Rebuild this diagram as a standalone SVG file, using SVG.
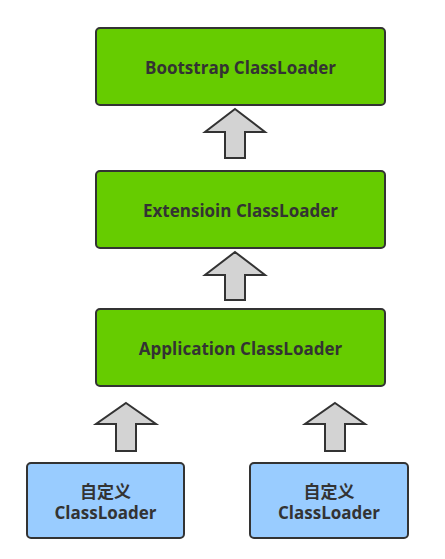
<svg xmlns="http://www.w3.org/2000/svg" width="445" height="559" viewBox="0 0 445 559">
<style>
.g{fill:#66CC00;stroke:#333;stroke-width:2}
.b{fill:#99CCFF;stroke:#333;stroke-width:2}
.t{font-family:"Open Sans","Noto Sans CJK SC",sans-serif;font-weight:bold;font-size:17px;fill:#333;text-anchor:middle;dominant-baseline:central}
.a{fill:#D3D3D3;stroke:#333;stroke-width:2;stroke-linejoin:miter}
</style>
<rect width="445" height="559" fill="#fff"/>
<g id="bootstrap"><rect class="g" x="96" y="28" width="289" height="77" rx="4"/><text class="t" x="240.5" y="67">Bootstrap ClassLoader</text></g>
<g id="extension"><rect class="g" x="96" y="171" width="289" height="77" rx="4"/><text class="t" x="240.5" y="210">Extensioin ClassLoader</text></g>
<g id="application"><rect class="g" x="96" y="309" width="289" height="77" rx="4"/><text class="t" x="240.5" y="348">Application ClassLoader</text></g>
<g id="custom1"><rect class="b" x="27" y="463" width="157" height="75" rx="4"/><text class="t" x="105.5" y="491">自定义</text><text class="t" x="105.5" y="512">ClassLoader</text></g>
<g id="custom2"><rect class="b" x="250" y="463" width="158" height="75" rx="4"/><text class="t" x="329" y="491">自定义</text><text class="t" x="329" y="512">ClassLoader</text></g>
<g id="connectors">
<polygon class="a" points="235,109 265,132 245,132 245,158 225,158 225,132 205,132"/>
<polygon class="a" points="235,252 265,275 245,275 245,300 225,300 225,275 205,275"/>
<polygon class="a" points="126,403 156,424 136,424 136,451 116,451 116,424 96,424"/>
<polygon class="a" points="335,403 365,424 345,424 345,451 325,451 325,424 305,424"/>
</g>
</svg>
